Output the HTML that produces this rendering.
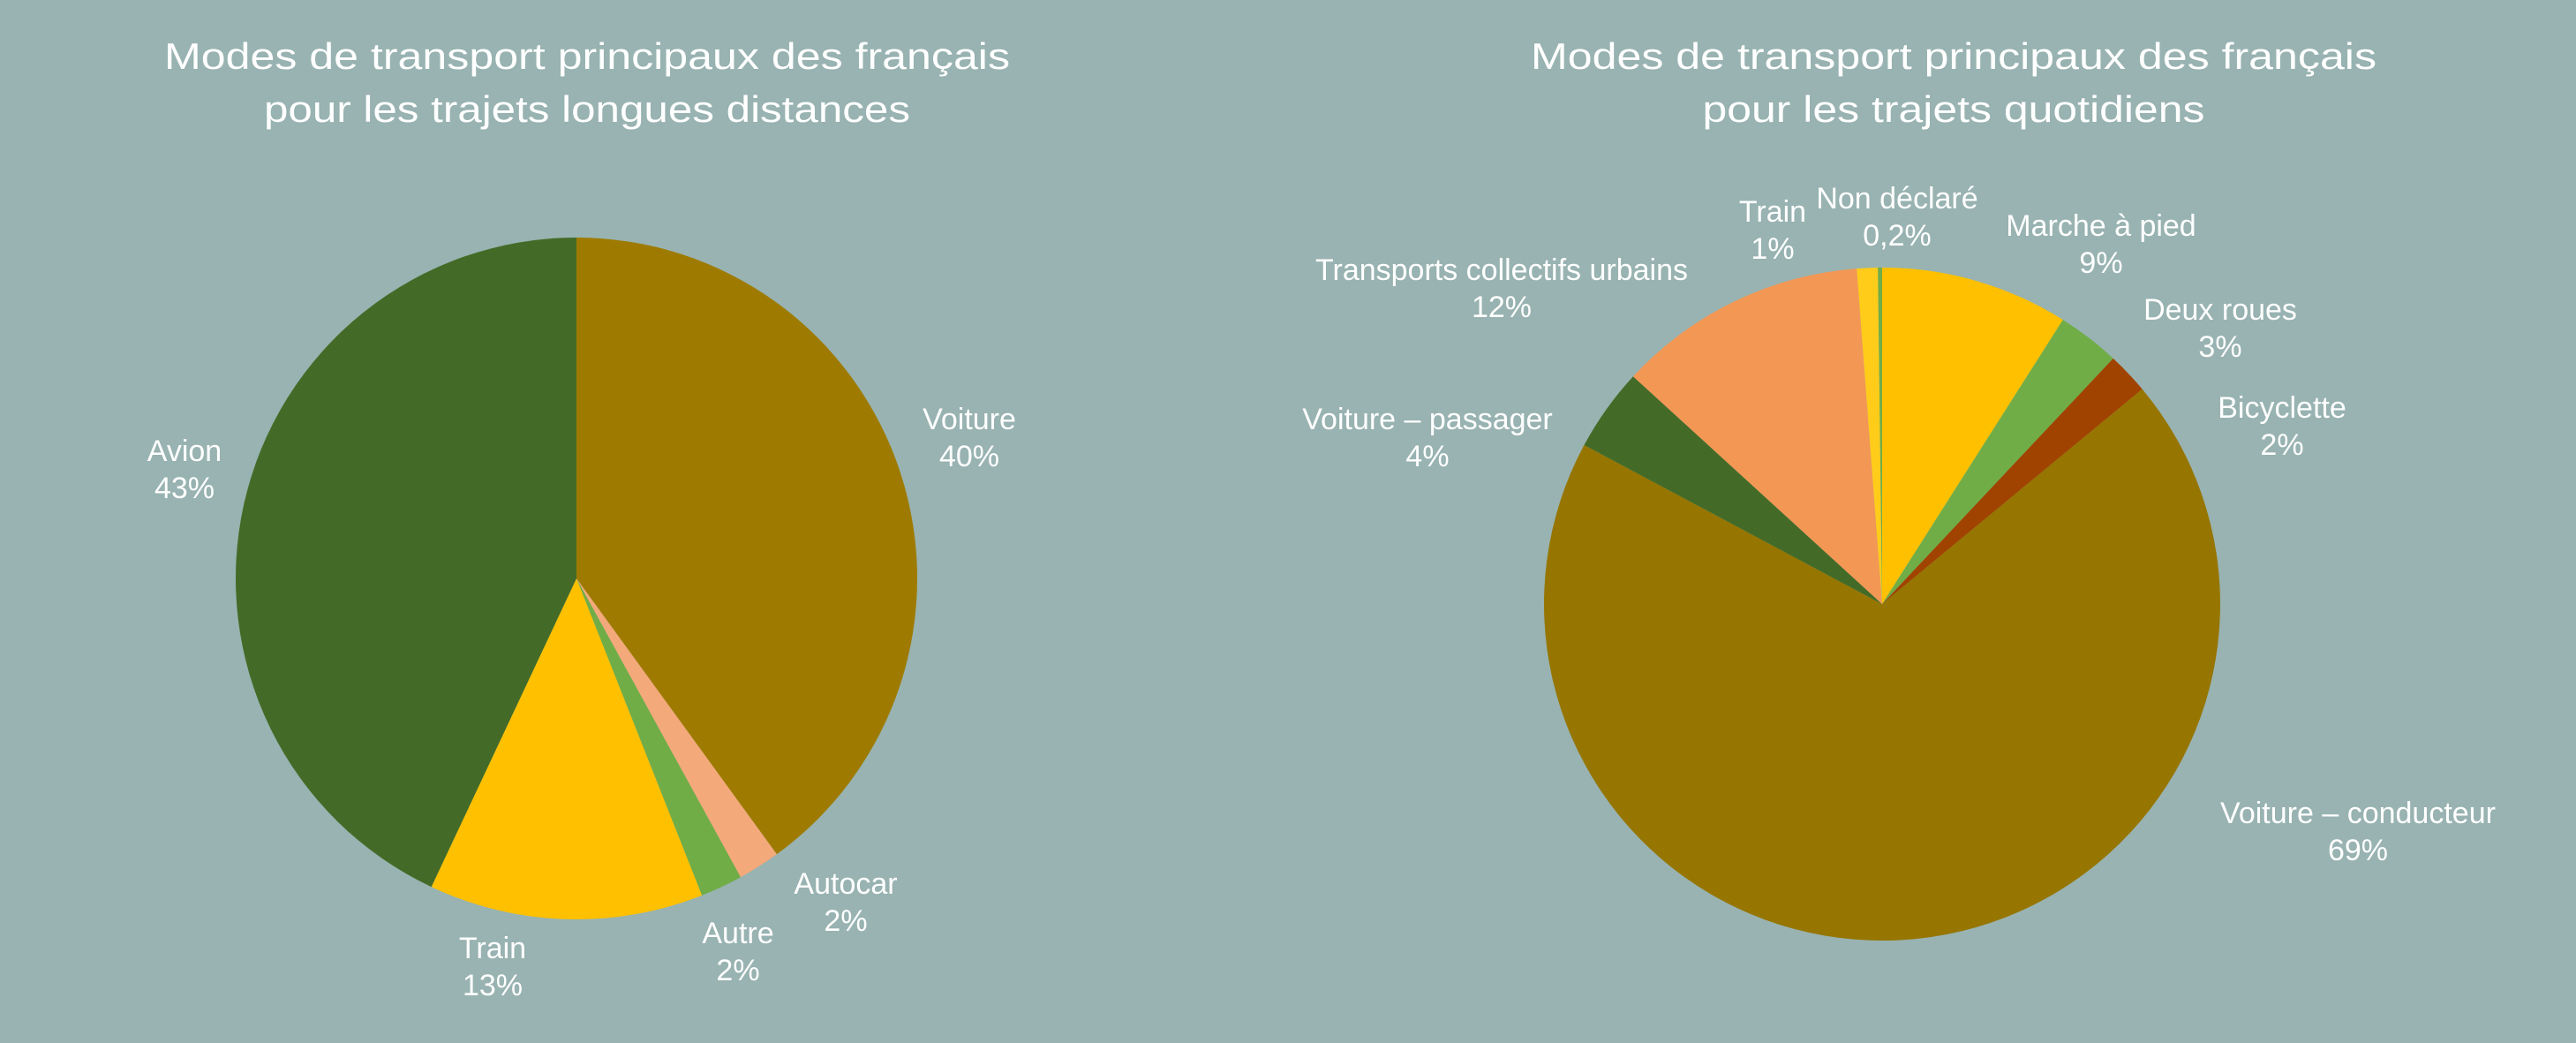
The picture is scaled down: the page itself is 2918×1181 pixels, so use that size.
<!DOCTYPE html>
<html><head><meta charset="utf-8"><style>
body{margin:0;background:#98b3b1;}
svg{display:block}
text{font-family:"Liberation Sans",sans-serif;fill:#fff;text-anchor:middle}
</style></head><body>
<svg id="c" width="2918" height="1181" viewBox="0 0 2918 1181">
<rect width="2918" height="1181" fill="#98b3b1"/>
<text x="665" y="78" font-size="42" textLength="958" lengthAdjust="spacingAndGlyphs">Modes de transport principaux des français</text>
<text x="665" y="138" font-size="42" textLength="732" lengthAdjust="spacingAndGlyphs">pour les trajets longues distances</text>
<text x="2213" y="78" font-size="42" textLength="958" lengthAdjust="spacingAndGlyphs">Modes de transport principaux des français</text>
<text x="2213" y="138" font-size="42" textLength="569" lengthAdjust="spacingAndGlyphs">pour les trajets quotidiens</text>
<g id="left"></g>
<g id="right"></g>
</svg>
<script>
const leftCats=["Voiture","Autocar","Autre","Train","Avion"];
const leftVals=[40,2,2,13,43];
const leftLabels=["40%","2%","2%","13%","43%"];
const leftColors=["#9e7b00","#f4a97a","#70ad47","#ffc000","#436b27"];
const leftLabelPos=[[1098,486],[958,1012],[836,1068],[558,1085],[209,522]];

const rightCats=["Marche à pied","Deux roues","Bicyclette","Voiture – conducteur","Voiture – passager","Transports collectifs urbains","Train","Non déclaré"];
const rightVals=[9,3,2,69,4,12,1,0.2];
const rightLabels=["9%","3%","2%","69%","4%","12%","1%","0,2%"];
const rightColors=["#ffc000","#70ad47","#a14300","#967500","#436b27","#f39755","#ffcc1a","#70ad47"];
const rightLabelPos=[[2380,267],[2515,362],[2585,473],[2671,932],[1617,486],[1701,317],[2008,251],[2149,236]];

const NS="http://www.w3.org/2000/svg";
function drawPie(gId,cats,vals,labels,colors,pos,cx,cy,rx,ry){
  const g=document.getElementById(gId);
  const tot=vals.reduce((a,b)=>a+b,0);
  let a=0;
  const pt=t=>[cx+rx*Math.sin(t),cy-ry*Math.cos(t)];
  vals.forEach((v,i)=>{
    const t0=a/tot*2*Math.PI; a+=v; const t1=a/tot*2*Math.PI;
    const p0=pt(t0),p1=pt(t1);
    const large=(t1-t0)>Math.PI?1:0;
    const p=document.createElementNS(NS,"path");
    p.setAttribute("d",`M${cx},${cy} L${p0[0]},${p0[1]} A${rx},${ry} 0 ${large} 1 ${p1[0]},${p1[1]} Z`);
    p.setAttribute("fill",colors[i]);
    
    
    g.appendChild(p);
    const t=document.createElementNS(NS,"text");
    t.setAttribute("x",pos[i][0]);t.setAttribute("y",pos[i][1]);t.setAttribute("font-size","34");
    
    
    const s1=document.createElementNS(NS,"tspan");s1.textContent=cats[i];
    s1.setAttribute("x",pos[i][0]);
    const s2=document.createElementNS(NS,"tspan");s2.textContent=labels[i];
    s2.setAttribute("x",pos[i][0]);s2.setAttribute("dy","42");
    t.appendChild(s1);t.appendChild(s2);
    g.appendChild(t);
  });
}
drawPie("left",leftCats,leftVals,leftLabels,leftColors,leftLabelPos,653,655,386,386);
drawPie("right",rightCats,rightVals,rightLabels,rightColors,rightLabelPos,2132,684,383,381);
</script>
</body></html>
